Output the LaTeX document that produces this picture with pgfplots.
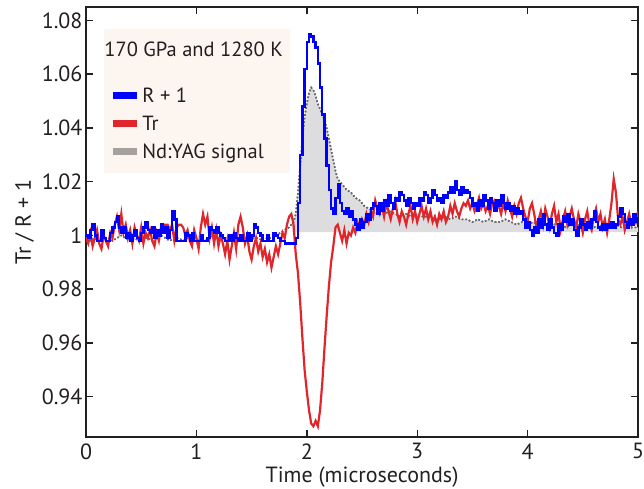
\documentclass[border=0pt]{standalone}
\usepackage{pgfplots}
\pgfplotsset{compat=1.18}
\usepgfplotslibrary{fillbetween}
\usepackage{fontspec}
\setmainfont{PT Sans}
\definecolor{axiscol}{HTML}{231F20}
\definecolor{textcol}{HTML}{231F20}
\definecolor{rblue}{RGB}{0,0,255}
\definecolor{tred}{HTML}{E0252B}
\definecolor{ydotted}{HTML}{6A6868}
\definecolor{yfill}{HTML}{DDDDDF}
\definecolor{ylegend}{HTML}{A5A19F}
\definecolor{legbg}{HTML}{FDF5F0}

\pgfplotstableread{
t v
0.00 1.000
0.02 0.999
0.04 1.002
0.06 1.004
0.08 1.000
0.10 0.998
0.12 0.998
0.14 1.002
0.16 0.999
0.18 0.998
0.20 0.998
0.22 1.001
0.24 1.003
0.26 1.005
0.28 1.007
0.30 1.003
0.32 1.001
0.34 1.003
0.36 0.999
0.38 1.001
0.40 0.998
0.42 1.000
0.44 1.002
0.46 0.999
0.48 0.998
0.50 1.001
0.52 1.003
0.54 1.005
0.56 1.002
0.58 1.001
0.60 1.003
0.62 0.999
0.64 1.002
0.66 1.000
0.68 1.004
0.70 1.001
0.72 1.003
0.74 0.999
0.76 1.002
0.78 1.009
0.80 1.006
0.82 0.998
0.84 0.998
0.86 0.998
0.88 0.998
0.90 1.001
0.92 1.000
0.94 0.998
0.96 1.001
0.98 0.998
1.00 0.998
1.02 0.998
1.04 1.000
1.06 0.998
1.08 0.998
1.10 0.999
1.12 1.003
1.14 1.002
1.16 1.001
1.18 1.003
1.20 1.001
1.22 1.000
1.24 0.999
1.26 0.998
1.28 0.998
1.30 1.000
1.32 0.998
1.34 1.001
1.36 0.999
1.38 0.998
1.40 1.000
1.42 0.998
1.44 0.998
1.46 1.001
1.48 0.998
1.50 1.000
1.52 1.004
1.54 1.003
1.56 1.001
1.58 1.000
1.60 0.998
1.62 0.998
1.64 1.000
1.66 0.998
1.68 0.998
1.70 1.001
1.72 1.000
1.74 0.999
1.76 0.998
1.78 0.998
1.80 0.997
1.82 0.997
1.84 0.997
1.86 0.997
1.88 0.997
1.90 0.999
1.92 1.012
1.94 1.030
1.96 1.048
1.98 1.062
2.00 1.072
2.02 1.075
2.04 1.074
2.06 1.072
2.08 1.070
2.10 1.064
2.12 1.055
2.14 1.045
2.16 1.036
2.18 1.026
2.20 1.017
2.22 1.010
2.24 1.008
2.26 1.014
2.28 1.019
2.30 1.012
2.32 1.009
2.34 1.008
2.36 1.010
2.38 1.007
2.40 1.009
2.42 1.006
2.44 1.004
2.46 1.002
2.48 1.006
2.50 1.003
2.52 1.005
2.54 1.008
2.56 1.006
2.58 1.010
2.60 1.012
2.62 1.011
2.64 1.008
2.66 1.012
2.68 1.009
2.70 1.013
2.72 1.011
2.74 1.015
2.76 1.012
2.78 1.010
2.80 1.014
2.82 1.013
2.84 1.016
2.86 1.015
2.88 1.013
2.90 1.011
2.92 1.014
2.94 1.012
2.96 1.010
2.98 1.012
3.00 1.011
3.02 1.014
3.04 1.013
3.06 1.016
3.08 1.015
3.10 1.012
3.12 1.014
3.14 1.017
3.16 1.015
3.18 1.013
3.20 1.014
3.22 1.012
3.24 1.015
3.26 1.014
3.28 1.016
3.30 1.018
3.32 1.016
3.34 1.020
3.36 1.017
3.38 1.015
3.40 1.018
3.42 1.016
3.44 1.017
3.46 1.016
3.48 1.014
3.50 1.011
3.52 1.012
3.54 1.009
3.56 1.013
3.58 1.011
3.60 1.015
3.62 1.013
3.64 1.010
3.66 1.014
3.68 1.012
3.70 1.009
3.72 1.013
3.74 1.011
3.76 1.015
3.78 1.012
3.80 1.010
3.82 1.012
3.84 1.009
3.86 1.011
3.88 1.008
3.90 1.010
3.92 1.008
3.94 1.009
3.96 1.006
3.98 1.003
4.00 1.005
4.02 1.002
4.04 1.000
4.06 1.003
4.08 1.001
4.10 1.006
4.12 1.003
4.14 1.008
4.16 1.004
4.18 1.002
4.20 1.006
4.22 1.003
4.24 1.001
4.26 1.000
4.28 1.004
4.30 1.002
4.32 1.007
4.34 1.005
4.36 1.008
4.38 1.004
4.40 1.006
4.42 1.002
4.44 1.000
4.46 1.003
4.48 1.006
4.50 1.004
4.52 1.002
4.54 1.005
4.56 1.003
4.58 1.006
4.60 1.009
4.62 1.005
4.64 1.003
4.66 1.002
4.68 1.004
4.70 1.002
4.72 1.004
4.74 1.003
4.76 1.005
4.78 1.003
4.80 1.004
4.82 1.007
4.84 1.010
4.86 1.008
4.88 1.005
4.90 1.003
4.92 1.006
4.94 1.004
4.96 1.008
4.98 1.005
5.00 1.007
}\bluedata

\pgfplotstableread{
t v
0.00 0.999
0.02 0.997
0.04 1.001
0.06 0.996
0.08 0.999
0.10 1.002
0.12 0.997
0.14 0.995
0.16 1.000
0.18 0.998
0.20 0.996
0.22 1.001
0.24 0.999
0.26 1.004
0.28 1.007
0.30 1.002
0.32 1.008
0.34 1.001
0.36 1.004
0.38 0.999
0.40 1.002
0.42 0.997
0.44 1.003
0.46 1.000
0.48 0.998
0.50 1.003
0.52 0.997
0.54 1.001
0.56 0.999
0.58 1.002
0.60 0.998
0.62 0.996
0.64 1.001
0.66 0.998
0.68 1.003
0.70 1.004
0.72 1.004
0.74 1.004
0.76 1.002
0.78 1.004
0.80 0.998
0.82 1.003
0.84 1.004
0.86 1.004
0.88 1.003
0.90 1.000
0.92 1.002
0.94 0.998
0.96 0.996
0.98 1.002
1.00 0.999
1.02 0.995
1.04 1.003
1.06 1.008
1.08 1.004
1.10 1.007
1.12 0.999
1.14 1.003
1.16 0.997
1.18 1.002
1.20 0.996
1.22 1.000
1.24 0.997
1.26 0.993
1.28 0.998
1.30 0.991
1.32 0.996
1.34 1.001
1.36 0.995
1.38 1.004
1.40 1.007
1.42 1.003
1.44 0.997
1.46 1.000
1.48 0.994
1.50 0.991
1.52 0.996
1.54 0.999
1.56 0.994
1.58 0.997
1.60 0.992
1.62 0.995
1.64 0.990
1.66 0.993
1.68 0.988
1.70 0.992
1.72 0.996
1.74 0.993
1.76 0.997
1.78 1.001
1.80 0.999
1.82 1.004
1.84 1.007
1.86 1.008
1.88 1.004
1.90 0.993
1.92 0.986
1.94 0.975
1.96 0.962
1.98 0.950
2.00 0.942
2.02 0.935
2.04 0.930
2.06 0.929
2.08 0.931
2.10 0.929
2.12 0.935
2.14 0.945
2.16 0.958
2.18 0.970
2.20 0.981
2.22 0.990
2.24 0.996
2.26 1.003
2.28 1.004
2.30 1.001
2.32 0.998
2.34 1.002
2.36 0.997
2.38 1.001
2.40 1.000
2.42 1.003
2.44 1.001
2.46 1.005
2.48 1.003
2.50 1.006
2.52 1.004
2.54 1.008
2.56 1.005
2.58 1.009
2.60 1.007
2.62 1.013
2.64 1.010
2.66 1.008
2.68 1.011
2.70 1.007
2.72 1.012
2.74 1.009
2.76 1.006
2.78 1.010
2.80 1.013
2.82 1.008
2.84 1.005
2.86 1.009
2.88 1.007
2.90 1.004
2.92 1.008
2.94 1.011
2.96 1.006
2.98 1.009
3.00 1.005
3.02 1.008
3.04 1.011
3.06 1.007
3.08 1.010
3.10 1.006
3.12 1.009
3.14 1.005
3.16 1.007
3.18 1.004
3.20 1.008
3.22 1.006
3.24 1.009
3.26 1.005
3.28 1.007
3.30 1.011
3.32 1.008
3.34 1.012
3.36 1.009
3.38 1.007
3.40 1.010
3.42 1.012
3.44 1.011
3.46 1.013
3.48 1.010
3.50 1.012
3.52 1.009
3.54 1.011
3.56 1.014
3.58 1.010
3.60 1.012
3.62 1.009
3.64 1.011
3.66 1.008
3.68 1.012
3.70 1.013
3.72 1.010
3.74 1.011
3.76 1.008
3.78 1.012
3.80 1.009
3.82 1.013
3.84 1.010
3.86 1.007
3.88 1.011
3.90 1.008
3.92 1.012
3.94 1.014
3.96 1.010
3.98 1.007
4.00 1.005
4.02 1.010
4.04 1.012
4.06 1.008
4.08 1.003
4.10 1.006
4.12 1.009
4.14 1.004
4.16 1.010
4.18 1.007
4.20 1.003
4.22 1.008
4.24 1.011
4.26 1.005
4.28 1.008
4.30 1.002
4.32 1.006
4.34 1.009
4.36 1.004
4.38 1.007
4.40 1.010
4.42 1.006
4.44 1.003
4.46 1.008
4.48 1.005
4.50 1.001
4.52 1.006
4.54 1.009
4.56 1.004
4.58 1.002
4.60 1.007
4.62 1.010
4.64 1.005
4.66 1.008
4.68 1.003
4.70 1.006
4.72 1.001
4.74 1.006
4.76 1.012
4.78 1.021
4.80 1.016
4.82 1.006
4.84 1.004
4.86 1.007
4.88 1.002
4.90 1.005
4.92 1.008
4.94 1.004
4.96 1.007
4.98 1.005
5.00 1.009
}\reddata

\pgfplotstableread{
t v
0.00 0.999
0.04 0.998
0.08 0.999
0.12 0.998
0.16 0.999
0.20 0.999
0.24 0.998
0.28 0.999
0.32 1.000
0.36 0.999
0.40 0.998
0.44 0.999
0.48 0.998
0.52 0.999
0.56 0.999
0.60 0.998
0.64 0.999
0.68 1.000
0.72 0.999
0.76 0.998
0.80 0.999
0.84 0.999
0.88 0.998
0.92 0.999
0.96 0.998
1.00 0.999
1.04 0.999
1.08 0.998
1.12 0.999
1.16 1.000
1.20 0.999
1.24 0.998
1.28 0.999
1.32 0.999
1.36 0.998
1.40 0.999
1.44 0.999
1.48 0.998
1.52 0.999
1.56 0.999
1.60 0.998
1.64 0.999
1.68 0.999
1.72 1.000
1.76 1.001
1.80 1.002
1.84 1.003
1.86 1.004
1.88 1.005
1.90 1.008
1.92 1.016
1.94 1.026
1.96 1.036
1.98 1.044
2.00 1.049
2.02 1.053
2.04 1.055
2.06 1.054
2.08 1.052
2.10 1.049
2.12 1.047
2.14 1.045
2.16 1.043
2.18 1.040
2.20 1.036
2.22 1.032
2.24 1.028
2.26 1.024
2.28 1.021
2.30 1.020
2.32 1.019
2.34 1.018
2.36 1.017
2.40 1.016
2.44 1.014
2.48 1.013
2.52 1.011
2.56 1.010
2.60 1.009
2.65 1.008
2.70 1.008
2.75 1.009
2.80 1.008
2.85 1.007
2.90 1.008
2.95 1.007
3.00 1.008
3.05 1.007
3.10 1.007
3.15 1.006
3.20 1.006
3.25 1.007
3.30 1.006
3.35 1.007
3.40 1.006
3.45 1.006
3.50 1.005
3.55 1.006
3.60 1.005
3.65 1.006
3.70 1.005
3.75 1.005
3.80 1.006
3.85 1.005
3.90 1.004
3.95 1.005
4.00 1.004
4.05 1.005
4.10 1.004
4.15 1.004
4.20 1.005
4.25 1.004
4.30 1.004
4.35 1.003
4.40 1.004
4.45 1.004
4.50 1.003
4.55 1.004
4.60 1.003
4.65 1.004
4.70 1.003
4.75 1.003
4.80 1.004
4.85 1.003
4.90 1.003
4.95 1.003
5.00 1.003
}\yagdata

\begin{document}
\begin{tikzpicture}
\begin{axis}[
  name=ax,
  scale only axis,
  width=552pt, height=430pt,
  xmin=0, xmax=5, ymin=0.925, ymax=1.085,
  xtick={0,1,2,3,4,5},
  ytick={0.94,0.96,0.98,1,1.02,1.04,1.06,1.08},
  yticklabel style={/pgf/number format/fixed, /pgf/number format/precision=2},
  xticklabel style={yshift=-3pt},
  /pgf/number format/assume math mode=true,
  tick align=inside,
  major tick length=7pt,
  axis line style={line width=1.4pt, color=axiscol},
  every tick/.style={line width=1.4pt, color=axiscol},
  tick label style={font=\fontsize{22}{26}\selectfont, text=textcol},
  label style={font=\fontsize{22}{26}\selectfont, text=textcol},
  xlabel={Time (microseconds)},
  ylabel={Tr / R + 1},
  xlabel style={yshift=-1pt},
  ylabel style={yshift=1pt},
  legend cell align=left,
  legend style={at={(0.033,0.949)}, anchor=north west, fill=legbg, draw=none,
    font=\fontsize{20.5}{24}\selectfont, text=textcol,
    inner xsep=5pt, inner ysep=11pt, row sep=8pt},
  legend image code/.code={\draw[#1, line width=7pt] (0pt,0pt) -- (24pt,0pt);},
]
\addplot[draw=none, name path=base, forget plot] coordinates {(1.80,1.0012) (5,1.0012)};
\addplot[ydotted, line width=1.6pt, dotted, name path=yag, forget plot] table[x=t,y=v] {\yagdata};
\addplot[yfill, forget plot] fill between[of=yag and base, soft clip={domain=1.87:5}];
\addplot[ydotted, line width=1.6pt, dotted, forget plot] table[x=t,y=v] {\yagdata};
\addplot[tred, line width=2.2pt, forget plot] table[x=t,y=v] {\reddata};
\addplot[rblue, line width=2.4pt, const plot, forget plot] table[x=t,y=v] {\bluedata};
\addlegendimage{empty legend}
\addlegendentry{\hspace*{-38pt}170 GPa and 1280 K}
\addlegendimage{empty legend}
\addlegendentry{\rule{0pt}{4pt}}
\addlegendimage{rblue}
\addlegendentry{R + 1}
\addlegendimage{tred}
\addlegendentry{Tr}
\addlegendimage{ylegend}
\addlegendentry{Nd:YAG signal}
\end{axis}
\pgfresetboundingbox
\path[use as bounding box] ([shift={(-86pt,-52pt)}]ax.south west) rectangle ([shift={(6pt,7pt)}]ax.north east);
\end{tikzpicture}
\end{document}
